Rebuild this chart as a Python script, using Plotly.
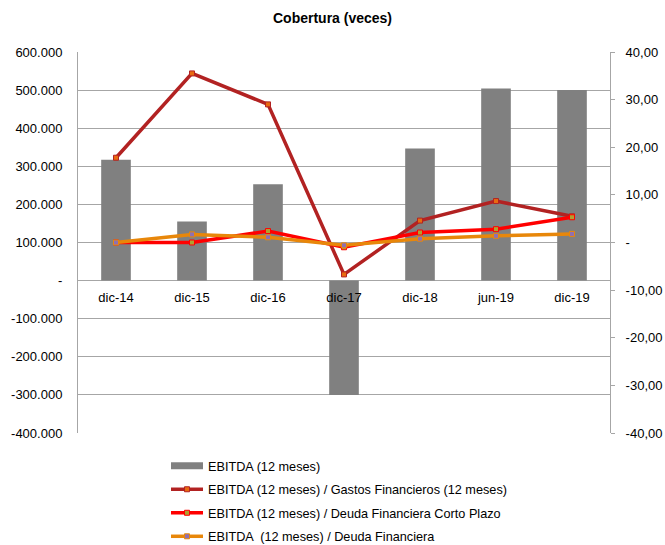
import plotly.graph_objects as go

categories = ["dic-14", "dic-15", "dic-16", "dic-17", "dic-18", "jun-19", "dic-19"]
ebitda = [317000, 155000, 253000, -300000, 347000, 504000, 500000]
cov_gastos = [17.8, 35.5, 29.0, -6.7, 4.6, 8.7, 5.5]
cov_corto = [0.0, 0.0, 2.4, -1.0, 2.1, 2.8, 5.3]
cov_deuda = [0.0, 1.7, 1.1, -0.6, 0.8, 1.4, 1.8]

left_ticks = [600000, 500000, 400000, 300000, 200000, 100000, 0, -100000, -200000, -300000, -400000]
left_text = ["600.000", "500.000", "400.000", "300.000", "200.000", "100.000", "-", "-100.000", "-200.000", "-300.000", "-400.000"]
right_ticks = [40, 30, 20, 10, 0, -10, -20, -30, -40]
right_text = ["40,00", "30,00", "20,00", "10,00", "-", "-10,00", "-20,00", "-30,00", "-40,00"]

names = ["EBITDA (12 meses)",
         "EBITDA (12 meses) / Gastos Financieros (12 meses)",
         "EBITDA (12 meses) / Deuda Financiera Corto Plazo",
         "EBITDA  (12 meses) / Deuda Financiera"]

FONT = "Liberation Sans, Arial, sans-serif"
fig = go.Figure()

fig.add_trace(go.Bar(x=categories, y=ebitda, marker=dict(color="#808080", line=dict(width=0)),
                     width=0.39, showlegend=False, legendgroup="g0"))
fig.add_trace(go.Scatter(x=[None], y=[None], mode="lines", line=dict(color="#808080", width=7),
                         name=names[0], legendgroup="g0"))

line_specs = [
    (cov_gastos, "#B22222", "#E86A10", names[1], "g1"),
    (cov_corto, "#FF0000", "#B0A030", names[2], "g2"),
    (cov_deuda, "#E8870A", "#9070B0", names[3], "g3"),
]
for vals, col, mcol, nm, grp in line_specs:
    fig.add_trace(go.Scatter(x=categories, y=vals, yaxis="y2", mode="lines+markers",
                             line=dict(color=col, width=3.5),
                             marker=dict(symbol="square", size=5, color=mcol, line=dict(color=col, width=1)),
                             name=nm, legendgroup=grp))

fig.update_layout(
    width=665, height=545,
    margin=dict(l=78, r=55, t=52, b=112, autoexpand=False),
    paper_bgcolor="white", plot_bgcolor="white",
    font=dict(family=FONT, size=13, color="#000000"),
    title=dict(text="<b>Cobertura (veces)</b>", x=0.5, xanchor="center", y=1 - 18 / 545,
               yanchor="middle", yref="container", font=dict(size=14)),
    bargap=0.6,
    xaxis=dict(type="category", anchor="free", position=0.4, showline=False, showgrid=False,
               ticks="", zeroline=False, tickfont=dict(size=13), ticklabelstandoff=7),
    yaxis=dict(range=[-400000, 600000], tickvals=left_ticks, ticktext=left_text,
               showgrid=True, gridcolor="#A6A6A6", gridwidth=1, zeroline=False,
               showline=True, linecolor="#A6A6A6", linewidth=1, ticks="",
               ticklabelstandoff=12),
    yaxis2=dict(range=[-40, 40], tickvals=right_ticks, ticktext=right_text, overlaying="y",
                side="right", showgrid=False, zeroline=False, showline=True,
                linecolor="#A6A6A6", linewidth=1, ticks="outside", ticklen=4,
                tickcolor="#A6A6A6", ticklabelstandoff=8),
    legend=dict(xref="container", yref="container", x=166 / 665, xanchor="left",
                y=1 - 451 / 545, yanchor="top",
                traceorder="grouped", tracegroupgap=4, itemwidth=32,
                font=dict(size=12.7), bgcolor="rgba(0,0,0,0)"),
)

fig.write_html("out.html")
